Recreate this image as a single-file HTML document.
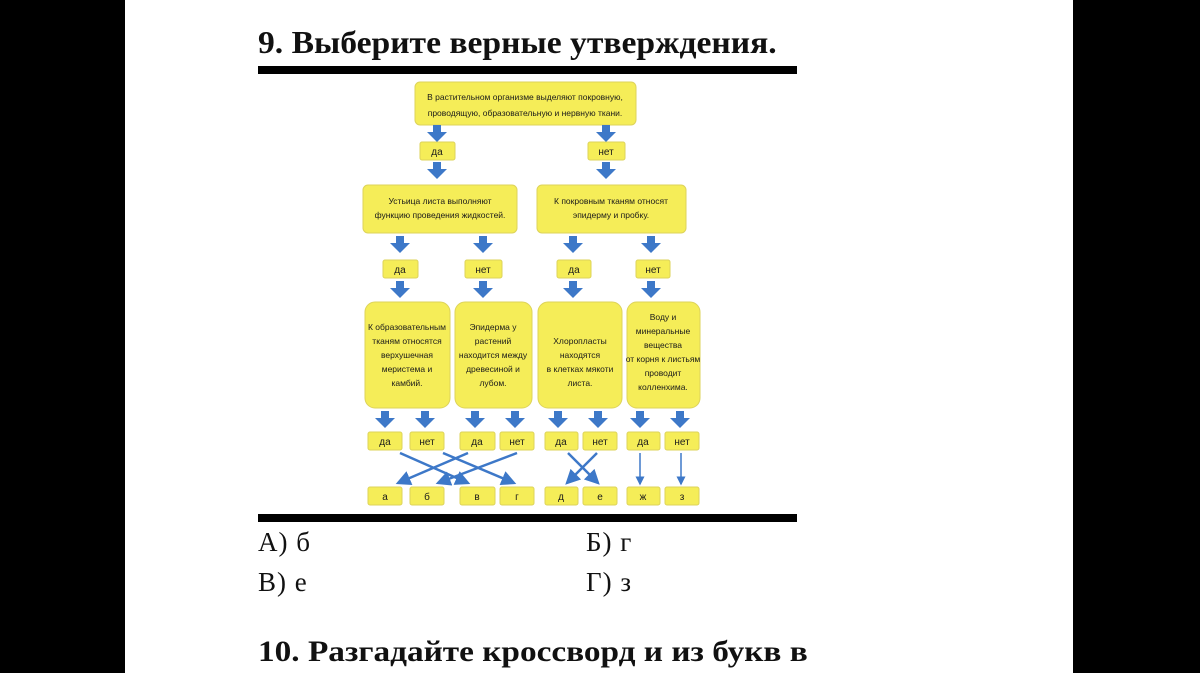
<!DOCTYPE html>
<html><head><meta charset="utf-8"><style>
html,body{margin:0;padding:0;background:#000;}
#p{position:relative;width:1200px;height:673px;background:#000;overflow:hidden;}
#w{position:absolute;left:125px;top:0;width:948px;height:673px;background:#fff;}
.t{position:absolute;font-family:"Liberation Serif","Noto Serif CJK SC",serif;color:#111;white-space:nowrap;transform-origin:0 0;}
</style></head><body><div id="p"><div id="w"></div>
<div class="t" style="left:258px;top:24px;font-size:32px;transform:scaleX(1.05);font-weight:bold;">9. Выберите верные утверждения.</div>
<div style="position:absolute;left:258px;top:66px;width:539px;height:8px;background:#000"></div>
<div style="position:absolute;left:258px;top:514px;width:539px;height:8px;background:#000"></div>
<div class="t" style="left:258px;top:527px;font-size:27px;letter-spacing:1px;">А) б</div>
<div class="t" style="left:586px;top:527px;font-size:27px;letter-spacing:1px;">Б) г</div>
<div class="t" style="left:258px;top:567px;font-size:27px;letter-spacing:1px;">В) е</div>
<div class="t" style="left:586px;top:567px;font-size:27px;letter-spacing:1px;">Г) з</div>
<div class="t" style="left:258px;top:635px;font-size:30px;transform:scaleX(1.11);font-weight:bold;">10. Разгадайте кроссворд и из букв в</div>
<svg width="1200" height="673" style="position:absolute;left:0;top:0" font-family="Liberation Sans, sans-serif" fill="#1a1a1a">
<defs><marker id="m" markerWidth="6" markerHeight="6" refX="5" refY="3" orient="auto"><path d="M0,0L6,3L0,6z" fill="#3d78c8"/></marker>
<path id="a" d="M-4,0h8v7h6l-10,10l-10,-10h6z"/></defs>
<g fill="#f5ed58" stroke="#ddd35a" stroke-width="1">
<rect x="415" y="82" width="221" height="43" rx="5"/>
<rect x="420" y="142" width="35" height="18" rx="2"/><rect x="588" y="142" width="37" height="18" rx="2"/>
<rect x="363" y="185" width="154" height="48" rx="5"/><rect x="537" y="185" width="149" height="48" rx="5"/>
<rect x="383" y="260" width="35" height="18" rx="2"/><rect x="465" y="260" width="37" height="18" rx="2"/>
<rect x="557" y="260" width="34" height="18" rx="2"/><rect x="636" y="260" width="34" height="18" rx="2"/>
<rect x="365" y="302" width="85" height="106" rx="10"/><rect x="455" y="302" width="77" height="106" rx="10"/>
<rect x="538" y="302" width="84" height="106" rx="10"/><rect x="627" y="302" width="73" height="106" rx="10"/>
<rect x="368" y="432" width="34" height="18" rx="2"/><rect x="410" y="432" width="34" height="18" rx="2"/>
<rect x="460" y="432" width="35" height="18" rx="2"/><rect x="500" y="432" width="34" height="18" rx="2"/>
<rect x="545" y="432" width="33" height="18" rx="2"/><rect x="583" y="432" width="34" height="18" rx="2"/>
<rect x="627" y="432" width="33" height="18" rx="2"/><rect x="665" y="432" width="34" height="18" rx="2"/>
<rect x="368" y="487" width="34" height="18" rx="2"/><rect x="410" y="487" width="34" height="18" rx="2"/>
<rect x="460" y="487" width="35" height="18" rx="2"/><rect x="500" y="487" width="34" height="18" rx="2"/>
<rect x="545" y="487" width="33" height="18" rx="2"/><rect x="583" y="487" width="34" height="18" rx="2"/>
<rect x="627" y="487" width="33" height="18" rx="2"/><rect x="665" y="487" width="34" height="18" rx="2"/>
</g>
<g fill="#3d78c8">
<use href="#a" x="437" y="125"/><use href="#a" x="437" y="162"/>
<use href="#a" x="606" y="125"/><use href="#a" x="606" y="162"/>
<use href="#a" x="400" y="236"/><use href="#a" x="483" y="236"/><use href="#a" x="573" y="236"/><use href="#a" x="651" y="236"/>
<use href="#a" x="400" y="281"/><use href="#a" x="483" y="281"/><use href="#a" x="573" y="281"/><use href="#a" x="651" y="281"/>
<use href="#a" x="385" y="411"/><use href="#a" x="425" y="411"/><use href="#a" x="475" y="411"/><use href="#a" x="515" y="411"/>
<use href="#a" x="558" y="411"/><use href="#a" x="598" y="411"/><use href="#a" x="640" y="411"/><use href="#a" x="680" y="411"/>
</g>
<g stroke="#3d78c8" stroke-width="2.5" marker-end="url(#m)">
<line x1="400" y1="453" x2="468" y2="483"/><line x1="443" y1="453" x2="514" y2="483"/>
<line x1="468" y1="453" x2="398" y2="483"/><line x1="517" y1="453" x2="438" y2="483"/>
<line x1="568" y1="453" x2="598" y2="483"/><line x1="597" y1="453" x2="567" y2="483"/>
<line x1="640" y1="453" x2="640" y2="484" stroke-width="1.5"/><line x1="681" y1="453" x2="681" y2="484" stroke-width="1.5"/>
</g>
<g font-size="8.5" text-anchor="middle">
<text x="525" y="100">В растительном организме выделяют покровную,</text>
<text x="525" y="116">проводящую, образовательную и нервную ткани.</text>
<text x="440" y="204">Устьица листа выполняют</text><text x="440" y="218">функцию проведения жидкостей.</text>
<text x="611" y="204">К покровным тканям относят</text><text x="611" y="218">эпидерму и пробку.</text>
<text x="407" y="330">К образовательным</text><text x="407" y="344">тканям относятся</text><text x="407" y="358">верхушечная</text><text x="407" y="372">меристема и</text><text x="407" y="386">камбий.</text>
<text x="493" y="330">Эпидерма у</text><text x="493" y="344">растений</text><text x="493" y="358">находится между</text><text x="493" y="372">древесиной и</text><text x="493" y="386">лубом.</text>
<text x="580" y="344">Хлоропласты</text><text x="580" y="358">находятся</text><text x="580" y="372">в клетках мякоти</text><text x="580" y="386">листа.</text>
<text x="663" y="320">Воду и</text><text x="663" y="334">минеральные</text><text x="663" y="348">вещества</text><text x="663" y="362">от корня к листьям</text><text x="663" y="376">проводит</text><text x="663" y="390">колленхима.</text>
<g font-size="10">
<text x="437" y="155">да</text><text x="606" y="155">нет</text>
<text x="400" y="273">да</text><text x="483" y="273">нет</text><text x="574" y="273">да</text><text x="653" y="273">нет</text>
<text x="385" y="445">да</text><text x="427" y="445">нет</text><text x="477" y="445">да</text><text x="517" y="445">нет</text>
<text x="561" y="445">да</text><text x="600" y="445">нет</text><text x="643" y="445">да</text><text x="682" y="445">нет</text>
<text x="385" y="500">а</text><text x="427" y="500">б</text><text x="477" y="500">в</text><text x="517" y="500">г</text>
<text x="561" y="500">д</text><text x="600" y="500">е</text><text x="643" y="500">ж</text><text x="682" y="500">з</text>
</g></g>
</svg>
</div></body></html>
